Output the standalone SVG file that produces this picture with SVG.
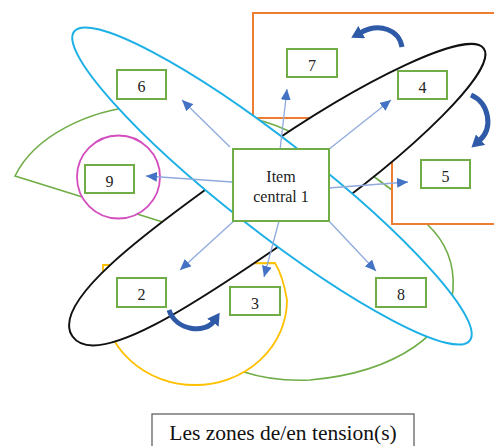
<svg xmlns="http://www.w3.org/2000/svg" width="494" height="446" viewBox="0 0 494 446">
<defs>
<style>
.box{fill:#fff;stroke:#70AD47;stroke-width:2}
.lbl{font-family:'Liberation Serif','DejaVu Serif',serif;font-size:16px;fill:#222;text-anchor:middle}
.cap{font-family:'Liberation Serif','DejaVu Serif',serif;font-size:21.5px;fill:#111;text-anchor:middle}
.conn{stroke:#8FAADC;stroke-width:1.3;fill:none;marker-end:url(#ah)}
.curv{stroke:#2F5AA8;stroke-width:5;fill:none;marker-end:url(#ch)}
.grn{fill:none;stroke:#70AD47;stroke-width:1.6}
</style>
<marker id="ah" markerUnits="userSpaceOnUse" markerWidth="12" markerHeight="10" refX="11" refY="5" orient="auto"><path d="M0,0 L11,5 L0,10 z" fill="#4472C4"/></marker>
<marker id="ch" markerUnits="userSpaceOnUse" markerWidth="14" markerHeight="14" refX="2" refY="7" orient="auto"><path d="M0,0 L12,7 L0,14 z" fill="#2F5AA8"/></marker>
</defs>
<rect width="494" height="446" fill="#fff"/>
<g id="zone-green">
<path class="grn" d="M140,106 C90,110 35,135 15,176 L182,228"/>
<path class="grn" d="M250,118 Q278,124 300,137"/>
<path class="grn" d="M365,170 L392,190"/>
<path class="grn" d="M427,224 C444,240 455,262 453,290 C450,330 400,372 310,380 C285,381 262,378 244,372"/>
</g>
<g id="zone-yellow">
<path d="M103,300 L103,265 L275,263 Q283,276 287,300 A92,85 0 0 1 103,300 Z" fill="#fff" stroke="#FFC000" stroke-width="1.8"/>
</g>
<g id="zone-orange">
<path d="M253,118 L253,13 L500,13 L500,224 L392,224 L392,118 Z" fill="none" stroke="#ED7D31" stroke-width="2"/>
</g>
<g id="zone-black">
<path transform="translate(279,192) rotate(-35)" d="M250,0 C250,-24.5 138,-44.5 0,-44.5 C-140,-44.5 -252,-40 -252,0 C-252,40 -140,44.5 0,44.5 C138,44.5 250,24.5 250,0 Z" fill="#fff" stroke="#111" stroke-width="2"/>
</g>
<g id="zone-cyan">
<ellipse cx="0" cy="0" rx="251" ry="45" transform="translate(272,186) rotate(38)" fill="#fff" stroke="#1CB0E6" stroke-width="2"/>
</g>
<g id="zone-pink">
<circle cx="118.5" cy="177" r="41.5" fill="#fff" stroke="#D44DBE" stroke-width="1.8"/>
</g>
<g id="connectors">
<line class="conn" x1="230" y1="147" x2="182" y2="100"/>
<line class="conn" x1="232" y1="182" x2="146" y2="176"/>
<line class="conn" x1="280" y1="150" x2="287" y2="89"/>
<line class="conn" x1="328" y1="150" x2="391" y2="100"/>
<line class="conn" x1="328" y1="188" x2="408" y2="182"/>
<line class="conn" x1="235" y1="220" x2="180" y2="270"/>
<line class="conn" x1="279" y1="221" x2="264" y2="277"/>
<line class="conn" x1="328" y1="220" x2="376" y2="271"/>
<path class="curv" d="M402,47 C399,30 380,22 360,33"/>
<path class="curv" d="M471,95 C489,103 494,128 479,141"/>
<path class="curv" d="M169,310 C176,331 205,334 214,321"/>
</g>
<g id="node-central"><rect class="box" x="233" y="149" width="96" height="72"/><text class="lbl" x="281" y="182">Item</text><text class="lbl" x="281" y="202">central 1</text></g>
<g id="node-6"><rect class="box" x="117" y="70" width="49" height="29"/><text class="lbl" x="141.5" y="92">6</text></g>
<g id="node-9"><rect class="box" x="85" y="165" width="49" height="28"/><text class="lbl" x="109.5" y="187">9</text></g>
<g id="node-7"><rect class="box" x="287" y="49" width="50" height="28"/><text class="lbl" x="312" y="71">7</text></g>
<g id="node-4"><rect class="box" x="398" y="71" width="49" height="28"/><text class="lbl" x="422.5" y="93">4</text></g>
<g id="node-5"><rect class="box" x="421" y="160" width="49" height="28"/><text class="lbl" x="445.5" y="182">5</text></g>
<g id="node-2"><rect class="box" x="117" y="278" width="49" height="29"/><text class="lbl" x="141.5" y="300">2</text></g>
<g id="node-3"><rect class="box" x="230" y="287" width="50" height="28"/><text class="lbl" x="255" y="309">3</text></g>
<g id="node-8"><rect class="box" x="376" y="278" width="50" height="29"/><text class="lbl" x="401" y="300">8</text></g>
<g id="caption"><rect x="152" y="414" width="262" height="40" fill="#fff" stroke="#555" stroke-width="1.2"/><text class="cap" x="283" y="440">Les zones de/en tension(s)</text></g>
</svg>
